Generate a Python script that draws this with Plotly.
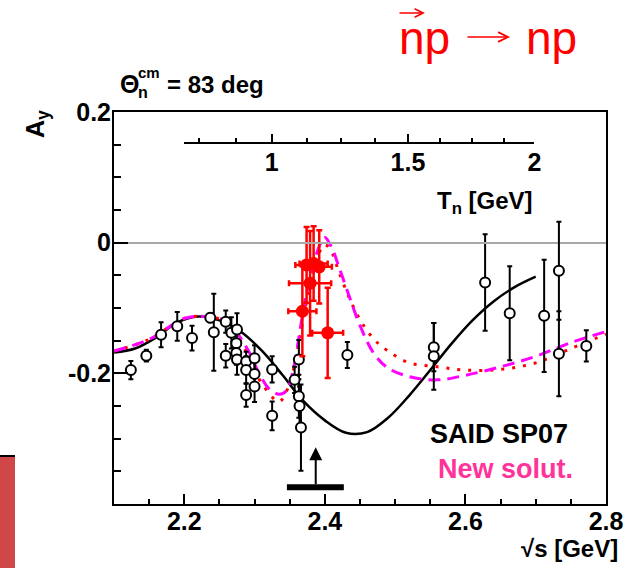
import math
import plotly.graph_objects as go

# ---------------- data ----------------
# open black circles (previous data)
bx = [2.124, 2.146, 2.167, 2.190, 2.211, 2.237, 2.242, 2.259, 2.259, 2.267, 2.275, 2.274,
      2.274, 2.275, 2.288, 2.288, 2.288, 2.300, 2.300, 2.300, 2.325, 2.325, 2.357, 2.363,
      2.363, 2.364, 2.366, 2.432, 2.555, 2.555, 2.628, 2.663, 2.712, 2.733, 2.733, 2.772]
by = [-0.195, -0.173, -0.141, -0.128, -0.146, -0.115, -0.137, -0.121, -0.173, -0.138, -0.133, -0.154,
      -0.169, -0.179, -0.182, -0.195, -0.233, -0.177, -0.201, -0.220, -0.194, -0.265, -0.210, -0.179,
      -0.235, -0.250, -0.283, -0.172, -0.160, -0.174, -0.061, -0.108, -0.112, -0.043, -0.170, -0.158]
be = [0.014, 0.009, 0.019, 0.022, 0.019, 0.007, 0.059, 0.017, 0.018, 0.024, 0.025, 0.021,
      0.018, 0.023, 0.015, 0.021, 0.018, 0.020, 0.020, 0.024, 0.020, 0.022, 0.020, 0.030,
      0.033, 0.030, 0.066, 0.020, 0.037, 0.051, 0.074, 0.072, 0.086, 0.075, 0.065, 0.024]

# red filled circles (new data)
rx = [2.368, 2.379, 2.374, 2.384, 2.392, 2.404]
ry = [-0.105, -0.062, -0.034, -0.032, -0.037, -0.138]
rxe = [0.020, 0.030, 0.016, 0.020, 0.018, 0.022]
rye = [0.069, 0.080, 0.058, 0.057, 0.056, 0.069]

# SAID SP07 (black solid)
said_x = [2.10, 2.13, 2.16, 2.19, 2.22, 2.25, 2.28, 2.31, 2.34, 2.37, 2.40, 2.43, 2.46,
          2.49, 2.52, 2.55, 2.58, 2.61, 2.64, 2.67, 2.70]
said_y = [-0.168, -0.162, -0.145, -0.122, -0.113, -0.119, -0.136, -0.165, -0.203, -0.243,
          -0.272, -0.291, -0.290, -0.268, -0.234, -0.195, -0.155, -0.119, -0.090, -0.068, -0.052]

# New solution (magenta dashed)
new_x = [2.10, 2.15, 2.20, 2.23, 2.26, 2.29, 2.305, 2.32, 2.335, 2.345, 2.356, 2.363, 2.37,
         2.378, 2.386, 2.393, 2.40, 2.41, 2.42, 2.435, 2.45, 2.47, 2.49, 2.52, 2.56, 2.60,
         2.65, 2.70, 2.75, 2.80]
new_y = [-0.166, -0.148, -0.116, -0.113, -0.121, -0.163, -0.197, -0.223, -0.232, -0.227,
         -0.190, -0.145, -0.100, -0.058, -0.025, -0.003, 0.008, -0.008, -0.037, -0.083,
         -0.127, -0.170, -0.192, -0.205, -0.210, -0.203, -0.190, -0.174, -0.153, -0.136]

# red dotted solution
dot_x = [2.10, 2.15, 2.20, 2.23, 2.26, 2.29, 2.31, 2.335, 2.35, 2.36, 2.37, 2.38, 2.39, 2.40,
         2.41, 2.42, 2.435, 2.45, 2.47, 2.49, 2.52, 2.56, 2.60, 2.65, 2.70, 2.75, 2.80]
dot_y = [-0.166, -0.148, -0.116, -0.113, -0.122, -0.170, -0.215, -0.243, -0.215, -0.170,
         -0.112, -0.060, -0.020, -0.003, -0.015, -0.045, -0.085, -0.118, -0.148, -0.166,
         -0.184, -0.190, -0.195, -0.194, -0.184, -0.162, -0.140]

# threshold marker (arrow + bar)
arrow_x = 2.387
arrow_y = [-0.372, -0.313]
bar_x = [2.346, 2.427]
bar_y = [-0.3745, -0.3745]

# tick labels
x_ticks = [2.2, 2.4, 2.6, 2.8]
x_ticktext = ["2.2", "2.4", "2.6", "2.8"]
y_ticks = [-0.2, 0.0, 0.2]
y_ticktext = ["-0.2", "0", "0.2"]
tn_major = [1.0, 1.5, 2.0]
tn_major_text = ["1", "1.5", "2"]
tn_minor = [0.75, 0.875, 1.125, 1.25, 1.375, 1.625, 1.75, 1.875]
tn_range = [0.7, 2.0]

# ---------------- layout geometry ----------------
W, H = 635, 568
L, R, T, B = 114, 29, 112, 64
PW, PH = W - L - R, H - T - B
XR = [2.1, 2.8]
YR = [-0.4, 0.2]


def pxp(px):
    return (px - L) / PW


def pyp(py):
    return (H - B - py) / PH


M_N, M_P = 0.93957, 0.93827


def sqrt_s(tn):
    return math.sqrt((M_N + M_P) ** 2 + 2 * M_P * tn)


FONT = "Liberation Sans, Arial, sans-serif"

fig = go.Figure()

fig.add_trace(go.Scatter(x=said_x, y=said_y, mode="lines", line=dict(color="black", width=2.5, shape="spline"),
                         hoverinfo="skip", showlegend=False))
fig.add_trace(go.Scatter(x=dot_x, y=dot_y, mode="lines",
                         line=dict(color="#ff0000", width=3, dash="3px,8px", shape="spline"),
                         hoverinfo="skip", showlegend=False))
fig.add_trace(go.Scatter(x=new_x, y=new_y, mode="lines",
                         line=dict(color="#ff00ff", width=3, dash="12px,7px", shape="spline"),
                         hoverinfo="skip", showlegend=False))

fig.add_trace(go.Scatter(x=bx, y=by, mode="markers",
                         marker=dict(symbol="circle", size=10, color="white", line=dict(color="black", width=2)),
                         error_y=dict(type="data", array=be, color="black", thickness=2, width=2.5),
                         showlegend=False))
fig.add_trace(go.Scatter(x=rx, y=ry, mode="markers",
                         marker=dict(symbol="circle", size=13, color="#ff0000"),
                         error_y=dict(type="data", array=rye, color="#ff0000", thickness=2.5, width=3),
                         error_x=dict(type="data", array=rxe, color="#ff0000", thickness=2.5, width=3),
                         showlegend=False))

fig.add_trace(go.Scatter(x=bar_x, y=bar_y, mode="lines", line=dict(color="black", width=6),
                         hoverinfo="skip", showlegend=False))

# dummy trace for Tn axis
fig.add_trace(go.Scatter(x=[sqrt_s(1.0)], y=[0.15], xaxis="x2", yaxis="y", mode="markers",
                         marker=dict(opacity=0), hoverinfo="skip", showlegend=False))

tickfont = dict(family=FONT, size=25, color="black", weight="bold")

fig.update_layout(
    width=W, height=H,
    margin=dict(l=L, r=R, t=T, b=B),
    paper_bgcolor="white", plot_bgcolor="rgba(0,0,0,0)",
    xaxis=dict(range=XR, tickvals=x_ticks, ticktext=x_ticktext, ticks="inside", ticklen=10, tickwidth=2,
               tickcolor="black", showline=True, mirror=True, linewidth=2, linecolor="black",
               showgrid=False, zeroline=False, tickfont=tickfont, ticklabelstandoff=-6,
               minor=dict(dtick=0.05, tick0=2.1, ticks="inside", ticklen=5, tickwidth=1.5,
                          tickcolor="black", showgrid=False)),
    yaxis=dict(range=YR, tickvals=y_ticks, ticktext=y_ticktext, ticks="inside", ticklen=14, tickwidth=2,
               tickcolor="black", showline=True, mirror=True, linewidth=2, linecolor="black",
               showgrid=False, zeroline=True, zerolinecolor="#a8a8a8", zerolinewidth=2, tickfont=tickfont,
               ticklabelstandoff=-4,
               minor=dict(dtick=0.05, tick0=0, ticks="inside", ticklen=7, tickwidth=1.5,
                          tickcolor="black", showgrid=False)),
    xaxis2=dict(anchor="free", position=pyp(143.3), side="bottom",
                domain=[(sqrt_s(tn_range[0]) - XR[0]) / (XR[1] - XR[0]),
                        (sqrt_s(tn_range[1]) - XR[0]) / (XR[1] - XR[0])],
                range=[sqrt_s(tn_range[0]), sqrt_s(tn_range[1])],
                tickvals=[sqrt_s(t) for t in tn_major], ticktext=tn_major_text,
                ticks="inside", ticklen=8, tickwidth=1.5, tickcolor="black",
                showline=True, linewidth=2, linecolor="black", showgrid=False, zeroline=False,
                tickfont=tickfont, ticklabelstandoff=-3,
                minor=dict(tickvals=[sqrt_s(t) for t in tn_minor], ticks="inside", ticklen=4,
                           tickwidth=1.5, tickcolor="black", showgrid=False)),
)

# threshold arrow
fig.add_annotation(x=arrow_x, y=arrow_y[1], ax=arrow_x, ay=arrow_y[0], xref="x", yref="y",
                   axref="x", ayref="y", showarrow=True, arrowhead=2, arrowsize=1.3, arrowwidth=2,
                   arrowcolor="black", text="")


def txt(text, px, py, size, color="black", xanchor="center", weight="bold", angle=0, family=FONT):
    fig.add_annotation(text=text, x=pxp(px), y=pyp(py), xref="paper", yref="paper", showarrow=False,
                       xanchor=xanchor, yanchor="middle", textangle=angle,
                       font=dict(family=family, size=size, color=color, weight=weight))


def parrow(x0, x1, py, width, head, size, color):
    fig.add_annotation(x=pxp(x1), y=pyp(py), ax=-(x1 - x0), ay=0, xref="paper", yref="paper",
                       axref="pixel", ayref="pixel", showarrow=True, arrowhead=head, arrowsize=size,
                       arrowwidth=width, arrowcolor=color, text="")


# title Θ_n^cm = 83 deg
txt("Θ", 129, 84, 25)
txt("cm", 149, 72, 15)
txt("n", 143, 92, 16)
txt("= 83 deg", 165, 84, 24, xanchor="left")
# y title
txt("A<sub>y</sub>", 37, 124, 25, angle=-90)
# x title
txt("√s [GeV]", 620, 548, 24, xanchor="right")
# Tn title
txt("T<sub>n</sub> [GeV]", 535, 202, 24, xanchor="right")
# legend-like labels
txt("SAID SP07", 570, 434, 27, xanchor="right")
txt("New solut.", 575, 469, 27, color="#ff3399", xanchor="right")
# reaction label  n(vec) p -> n p
txt("np", 424, 38, 46, color="#ff0000", weight="normal")
txt("np", 551, 38, 46, color="#ff0000", weight="normal")
parrow(466, 510, 37, 1.6, 5, 1.2, "#ff0000")
parrow(398, 425, 13, 1.4, 5, 1.2, "#ff0000")

# red decoration at the left
fig.add_shape(type="rect", xref="paper", yref="paper", x0=pxp(0), x1=pxp(15), y0=pyp(568), y1=pyp(456),
              fillcolor="#cf4747", line=dict(width=0), layer="above")
fig.add_shape(type="line", xref="paper", yref="paper", x0=pxp(0), x1=pxp(15), y0=pyp(456), y1=pyp(456),
              line=dict(color="black", width=2))

fig.write_html("out.html", config={"displayModeBar": False},
               post_script="document.body.style.margin='0';document.body.style.padding='0';")
